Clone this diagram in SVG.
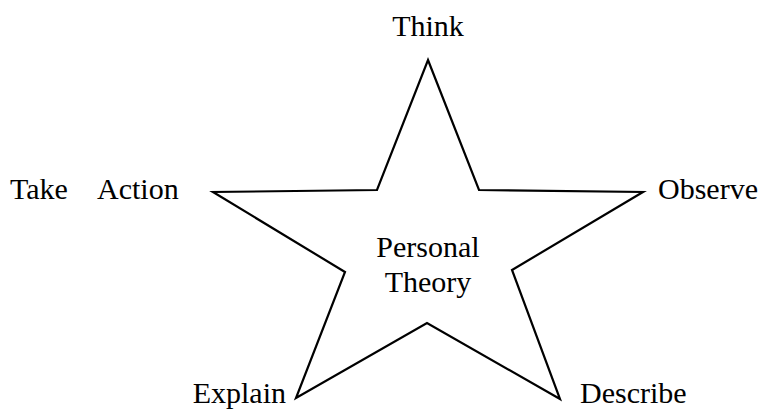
<svg xmlns="http://www.w3.org/2000/svg" width="767" height="410" viewBox="0 0 767 410">
<style>
text{font-family:'Liberation Serif',Tinos,'Times New Roman',Times,'DejaVu Serif',serif;font-size:30px;fill:#000}
.star{fill:#fff;stroke:#000;stroke-width:2.2;stroke-linejoin:miter}
</style>
<rect width="767" height="410" fill="#fff"/>
<g id="star">
<polygon class="star" points="428,60 479,190 643,192 512,270 560,399 427,323 296,398 345,272 213,192 377,190"/>
<text x="428" y="257" text-anchor="middle" font-family="Liberation Serif, serif">Personal</text>
<text x="428" y="292" text-anchor="middle" font-family="Liberation Serif, serif">Theory</text>
</g>
<g id="think"><text x="428" y="36" text-anchor="middle" font-family="Liberation Serif, serif">Think</text></g>
<g id="observe"><text x="658" y="199" font-family="Liberation Serif, serif">Observe</text></g>
<g id="describe"><text x="580" y="403" font-family="Liberation Serif, serif">Describe</text></g>
<g id="explain"><text x="286" y="403" text-anchor="end" font-family="Liberation Serif, serif">Explain</text></g>
<g id="take-action"><text x="10" y="199" font-family="Liberation Serif, serif">Take<tspan x="97">Action</tspan></text></g>
<g id="connectors"></g>
</svg>
